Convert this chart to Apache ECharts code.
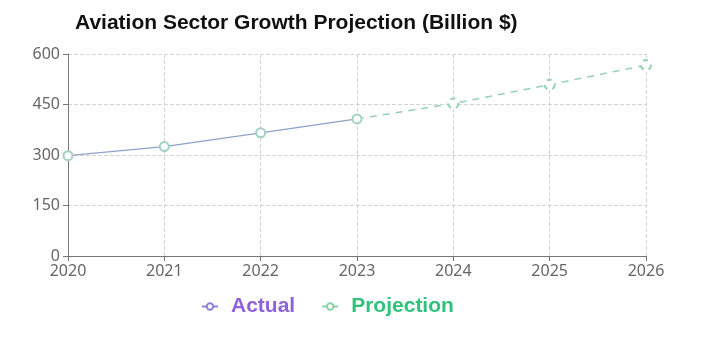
<!DOCTYPE html>
<html>
<head>
<meta charset="utf-8">
<script src="https://cdn.jsdelivr.net/npm/echarts@6/dist/echarts.min.js"></script>
<style>
  html, body { margin: 0; padding: 0; background: #fff; }
  #chart { width: 702px; height: 339px; }
</style>
</head>
<body>
<div id="chart"></div>
<script>
// Years on the x axis
const years = ['2020', '2021', '2022', '2023', '2024', '2025', '2026'];
// Recorded market size (billion $)
const actualValues = [298, 325, 366, 407, null, null, null];
// Forecast, continuing from the last recorded year
const projectionValues = [null, null, null, 407, 453, 509, 567];
// Value axis ticks
const yMin = 0, yMax = 600, yStep = 150;

const chart = echarts.init(document.getElementById('chart'));

// the forecast joins the last recorded point without repeating its marker
const projData = projectionValues.map((v, i) =>
  (i === 3 && v !== null) ? { value: v, symbol: 'none' } : v);

chart.setOption({
  animation: false,
  title: {
    text: 'Aviation Sector Growth Projection (Billion $)',
    left: 70,
    top: 8,
    textStyle: {
      fontFamily: 'Liberation Sans',
      fontWeight: 'bold',
      fontSize: 21,
      color: '#111'
    }
  },
  legend: {
    bottom: 17,
    left: 196,
    itemWidth: 16,
    itemHeight: 8,
    itemGap: 26,
    data: [
      {
        name: 'Actual',
        textStyle: { color: '#8e62dc' },
        itemStyle: { color: '#8e80d8', borderColor: '#8e80d8', borderWidth: 1.5 },
        lineStyle: { color: '#8e80d8', type: 'solid', width: 2 }
      },
      {
        name: 'Projection',
        textStyle: { color: '#2ec27a' },
        itemStyle: { color: '#8fd1aa', borderColor: '#8fd1aa', borderWidth: 1.5 },
        lineStyle: { color: '#8fd1aa', type: 'solid', width: 2 }
      }
    ],
    textStyle: {
      fontFamily: 'Liberation Sans',
      fontWeight: 'bold',
      fontSize: 21,
      padding: [0, 0, 0, 8]
    }
  },
  grid: { left: 68, right: 56, top: 54, bottom: 83, containLabel: false },
  xAxis: {
    type: 'category',
    data: years,
    boundaryGap: false,
    axisLine: { lineStyle: { color: '#777' } },
    axisTick: { show: true, alignWithLabel: true, length: 5, lineStyle: { color: '#777' } },
    axisLabel: { color: '#666', fontSize: 16, fontFamily: 'Noto Sans', margin: 7 },
    splitLine: { show: true, lineStyle: { type: 'dashed', color: '#d4d4d4' } }
  },
  yAxis: {
    type: 'value',
    min: yMin,
    max: yMax,
    interval: yStep,
    axisLine: { show: true, lineStyle: { color: '#777' } },
    axisTick: { show: true, length: 5, lineStyle: { color: '#777' } },
    axisLabel: { color: '#666', fontSize: 16, fontFamily: 'Noto Sans', margin: 8 },
    splitLine: { show: true, lineStyle: { type: 'dashed', color: '#d4d4d4' } }
  },
  series: [
    {
      name: 'Actual',
      type: 'line',
      data: actualValues,
      symbol: 'emptyCircle',
      symbolSize: 9,
      lineStyle: { color: '#8fa3c6', width: 1.3 },
      itemStyle: { color: '#a3cfc4', borderColor: '#a3cfc4', borderWidth: 1.5 },
      z: 3
    },
    {
      name: 'Projection',
      type: 'line',
      data: projData,
      symbol: 'emptyCircle',
      symbolSize: 10,
      lineStyle: { color: '#97d2b2', width: 1.5, type: [7, 6] },
      itemStyle: { color: '#97d2b2', borderColor: '#97d2b2', borderWidth: 1.5, borderType: [5, 5] },
      z: 2
    }
  ]
});
</script>
</body>
</html>
